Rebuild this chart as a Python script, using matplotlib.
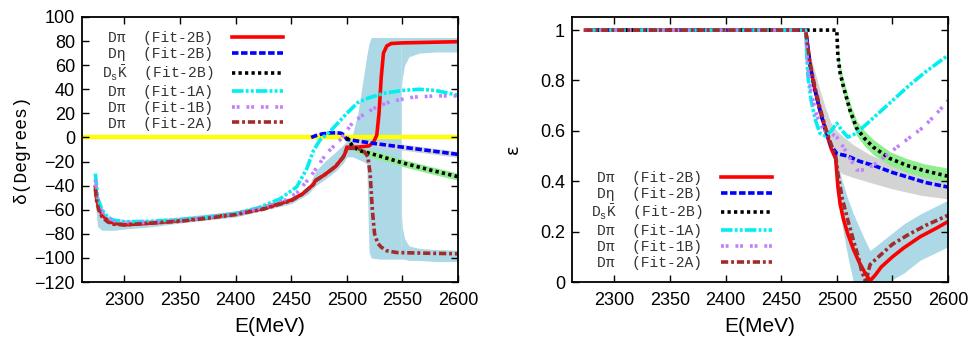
import matplotlib
matplotlib.use("Agg")
import matplotlib.pyplot as plt

plt.rcParams['mathtext.fontset'] = 'custom'
plt.rcParams['mathtext.rm'] = 'Liberation Mono'
plt.rcParams['mathtext.it'] = 'Liberation Mono'

# ---------------- Left panel: phase shifts (degrees) ----------------
red_E = [2274, 2275, 2277, 2280, 2285, 2290, 2300, 2325, 2350, 2375, 2400, 2425, 2450, 2460,
         2470, 2472, 2480, 2490, 2497, 2499, 2500, 2510, 2520, 2524, 2527, 2529, 2531, 2533,
         2536, 2540, 2550, 2575, 2600]
red_d = [-41, -50, -58, -64, -69, -71, -72.5, -71, -69, -66.5, -63.5, -59, -52, -47,
         -39, -35.5, -31, -24, -16, -12, -8, -8, -7, -4, 2, 20, 50, 70,
         76, 78, 78.5, 79, 79.5]

blue_E = [2468, 2472, 2478, 2485, 2490, 2495, 2498, 2500, 2510, 2525, 2550, 2575, 2600]
blue_d = [0, 1.5, 3, 3.8, 4, 3.5, 1.5, -1.5, -3, -5, -8, -11, -14]

black_E = [2500, 2502, 2506, 2512, 2520, 2530, 2550, 2575, 2600]
black_d = [0, -3, -8, -11, -13, -15.5, -21, -27, -32.5]

cyan_E = [2274, 2276, 2280, 2285, 2290, 2300, 2325, 2350, 2375, 2400, 2420, 2440, 2455,
          2464, 2470, 2476, 2485, 2500, 2510, 2520, 2535, 2550, 2565, 2580, 2600]
cyan_d = [-30, -50, -60, -66, -68.5, -70, -69.5, -68, -66, -63, -58.5, -51, -41,
          -26, -11, -2, 5, 20, 29, 33, 37, 39, 40, 39, 35]

purple_E = [2274, 2276, 2280, 2285, 2290, 2300, 2325, 2350, 2375, 2400, 2425, 2445, 2455,
            2467, 2482, 2494, 2505, 2515, 2527, 2540, 2560, 2580, 2600]
purple_d = [-35, -52, -62, -67, -69.5, -71, -70.5, -69, -66.5, -63.5, -58, -52, -46,
            -33, -13, -2, 12, 19, 25.5, 30, 33.5, 34.5, 34.5]

brown_E = [2274, 2275, 2277, 2280, 2285, 2290, 2300, 2325, 2350, 2375, 2400, 2425, 2450,
           2460, 2470, 2472, 2480, 2490, 2497, 2500, 2510, 2516, 2519, 2521, 2523, 2525,
           2528, 2531, 2536, 2545, 2570, 2600]
brown_d = [-43, -52, -60, -66, -70, -72, -72.5, -71, -69.5, -67, -64, -59.5, -52.5,
           -47, -39, -36, -31, -24, -16, -9, -9, -12, -16, -30, -60, -80,
           -88, -91, -94, -95.5, -96, -96.5]

# error bands (left)
band_E = [2274, 2276, 2280, 2290, 2300, 2325, 2350, 2400, 2450, 2465, 2472, 2480, 2490,
          2497, 2500, 2505, 2510, 2515, 2518, 2520, 2522, 2530, 2549]
band_lo = [-55, -74, -77, -77, -76, -74, -71, -66, -55, -47, -40, -35, -28,
           -21, -16, -16, -18, -20, -22, -95, -100, -101, -101]
band_hi = [-38, -55, -63, -67, -68, -68, -66, -61, -50, -42, -28, -20, -12,
           -6, -3, 2, 20, 50, 68, 78, 83, 83, 83]
bandU_E = [2549, 2550, 2552, 2556, 2565, 2580, 2600]
bandU_lo = [40, 50, 60, 67, 70, 71, 71]
bandU_hi = [83, 83, 83, 83, 83, 83, 83]
bandL_E = [2549, 2550, 2552, 2556, 2565, 2580, 2600]
bandL_lo = [-101, -101, -101, -102, -102, -103, -103]
bandL_hi = [-62, -75, -84, -90, -92, -93, -93.5]

grey_E = [2472, 2480, 2490, 2497, 2500, 2510, 2525, 2550, 2575, 2600]
grey_lo = [-1, 0.5, 1.5, 0, -4, -5.5, -7.5, -10.5, -13.5, -16.5]
grey_hi = [2.5, 5, 6, 4.5, 1, -0.5, -2.5, -5.5, -8.5, -11.5]

green_E = [2500, 2502, 2506, 2512, 2520, 2530, 2550, 2575, 2600]
green_lo = [-1, -5.5, -10.5, -13.5, -16, -18.5, -24, -30, -35.5]
green_hi = [1, -0.5, -5.5, -8.5, -10, -12.5, -18, -24, -29.5]

# ---------------- Right panel: inelasticity ----------------
r_red_E = [2274, 2472, 2476, 2480, 2485, 2490, 2495, 2499, 2501, 2503, 2506, 2510, 2515,
           2520, 2525, 2530, 2535, 2540, 2550, 2560, 2575, 2590, 2600]
r_red_e = [1, 1, 0.86, 0.77, 0.68, 0.6, 0.53, 0.49, 0.38, 0.31, 0.25, 0.19, 0.13,
           0.08, 0.04, 0.005, 0.03, 0.06, 0.1, 0.135, 0.18, 0.215, 0.24]

r_blue_E = [2274, 2472, 2476, 2480, 2485, 2490, 2495, 2500, 2510, 2520, 2535, 2550, 2565,
            2580, 2600]
r_blue_e = [1, 1, 0.86, 0.77, 0.68, 0.6, 0.54, 0.51, 0.5, 0.48, 0.46, 0.435, 0.415,
            0.395, 0.377]

r_black_E = [2274, 2500, 2501, 2503, 2506, 2512, 2518, 2525, 2533, 2548, 2563, 2578, 2600]
r_black_e = [1, 1, 0.9, 0.83, 0.775, 0.68, 0.61, 0.57, 0.535, 0.49, 0.463, 0.443, 0.42]

r_cyan_E = [2274, 2472, 2474, 2477, 2481, 2485, 2490, 2495, 2500, 2505, 2510, 2515, 2520,
            2535, 2550, 2565, 2580, 2600]
r_cyan_e = [1, 1, 0.82, 0.72, 0.64, 0.59, 0.58, 0.6, 0.63, 0.6, 0.575, 0.585, 0.6,
            0.66, 0.72, 0.78, 0.835, 0.9]

r_purple_E = [2274, 2472, 2474, 2477, 2482, 2488, 2495, 2500, 2506, 2512, 2518, 2525,
              2535, 2548, 2563, 2578, 2590, 2600]
r_purple_e = [1, 1, 0.85, 0.75, 0.66, 0.605, 0.59, 0.575, 0.535, 0.49, 0.445, 0.445,
              0.47, 0.515, 0.565, 0.615, 0.67, 0.72]

r_brown_E = [2274, 2472, 2476, 2480, 2485, 2490, 2495, 2499, 2501, 2505, 2510, 2515,
             2520, 2522, 2526, 2530, 2540, 2550, 2565, 2580, 2600]
r_brown_e = [1, 1, 0.87, 0.78, 0.69, 0.61, 0.545, 0.5, 0.43, 0.33, 0.245, 0.165,
             0.09, 0.05, 0.0, 0.07, 0.11, 0.15, 0.19, 0.225, 0.265]

r_band_E = [2499, 2501, 2505, 2510, 2515, 2520, 2525, 2530, 2540, 2550, 2560, 2575, 2600]
r_band_hi = [0.5, 0.47, 0.4, 0.33, 0.27, 0.22, 0.17, 0.125, 0.16, 0.195, 0.23, 0.27, 0.325]
r_band_lo = [0.49, 0.35, 0.22, 0.1, 0.0, -0.05, -0.05, -0.05, -0.02, 0.01, 0.035, 0.087, 0.14]

r_grey_E = [2472, 2476, 2480, 2485, 2490, 2495, 2500, 2505, 2515, 2530, 2550, 2575, 2600]
r_grey_lo = [1, 0.85, 0.76, 0.67, 0.59, 0.52, 0.45, 0.43, 0.415, 0.395, 0.37, 0.345, 0.33]
r_grey_hi = [1, 0.9, 0.84, 0.76, 0.69, 0.63, 0.6, 0.58, 0.545, 0.505, 0.47, 0.44, 0.42]

r_green_E = [2500, 2501, 2503, 2506, 2512, 2518, 2525, 2533, 2548, 2563, 2578, 2600]
r_green_lo = [1, 0.87, 0.80, 0.745, 0.65, 0.58, 0.54, 0.505, 0.463, 0.436, 0.416, 0.395]
r_green_hi = [1, 0.93, 0.86, 0.805, 0.71, 0.64, 0.60, 0.565, 0.517, 0.49, 0.47, 0.452]

labels = ['D\u03c0  (Fit-2B)', 'D\u03b7  (Fit-2B)', r'D$_\mathrm{s}\bar{\mathrm{K}}$  (Fit-2B)',
          'D\u03c0  (Fit-1A)', 'D\u03c0  (Fit-1B)', 'D\u03c0  (Fit-2A)']

xticks = [2300, 2350, 2400, 2450, 2500, 2550, 2600]
left_yticks = [-120, -100, -80, -60, -40, -20, 0, 20, 40, 60, 80, 100]
right_yticks = [0, 0.2, 0.4, 0.6, 0.8, 1]
right_yticklabels = ['0', '0.2', '0.4', '0.6', '0.8', '1']

colors = ['#ff0000', '#0000ff', '#000000', '#00f0f0', '#c080ff', '#a52a2a']
styles = [dict(linestyle='-'),
          dict(dashes=(1.8, 0.7)),
          dict(dashes=(0.9, 0.9)),
          dict(dashes=(3.2, 0.6, 0.8, 0.6, 0.8, 0.6)),
          dict(dashes=(0.8, 0.5, 0.8, 1.9)),
          dict(dashes=(2.0, 0.8, 0.8, 0.8))]
LW = 2.6

fig = plt.figure(figsize=(9.73, 3.44), dpi=100)
axL = fig.add_axes([0.0843, 0.180, 0.3864, 0.7706])
axR = fig.add_axes([0.5879, 0.180, 0.3864, 0.7706])

tickfont = dict(family='Liberation Sans', size=13)
legprop = dict(family='Liberation Mono', size=10.5)

# left panel
axL.fill_between(band_E, band_lo, band_hi, color='#add8e6', lw=0, zorder=1)
axL.fill_between(bandU_E, bandU_lo, bandU_hi, color='#add8e6', lw=0, zorder=1)
axL.fill_between(bandL_E, bandL_lo, bandL_hi, color='#add8e6', lw=0, zorder=1)
axL.fill_between(grey_E, grey_lo, grey_hi, color='#d3d3d3', lw=0, zorder=1.1)
axL.fill_between(green_E, green_lo, green_hi, color='#90ee90', lw=0, zorder=1.1)
axL.axhline(0, color='#ffff00', lw=3.2, zorder=1.5)

left_series = [(red_E, red_d), (blue_E, blue_d), (black_E, black_d),
               (cyan_E, cyan_d), (purple_E, purple_d), (brown_E, brown_d)]
handles = []
for i, (E, v) in enumerate(left_series):
    h, = axL.plot(E, v, color=colors[i], lw=LW, label=labels[i], zorder=2 + i * 0.1,
                  **styles[i])
    handles.append(h)

axL.set_xlim(2262, 2600)
axL.set_ylim(-120, 100)
axL.set_xticks(xticks)
axL.set_yticks(left_yticks)
axL.set_xticklabels([str(t) for t in xticks], **tickfont)
axL.set_yticklabels(['\u2212' + str(-t) if t < 0 else str(t) for t in left_yticks], **tickfont)
axL.set_xlabel('E(MeV)', family='Liberation Sans', size=15, labelpad=6)
axL.set_ylabel('\u03b4(Degrees)', family='Liberation Mono', size=13, labelpad=3)

legL = axL.legend(handles=handles, loc='upper right', bbox_to_anchor=(0.535, 0.946),
                  frameon=False, markerfirst=False, prop=legprop,
                  handlelength=3.5, handletextpad=1.3, labelspacing=0.13, borderpad=0,
                  borderaxespad=0)
for t in legL.get_texts():
    t.set_color('#333333')

# right panel
axR.fill_between(r_grey_E, r_grey_lo, r_grey_hi, color='#d3d3d3', lw=0, zorder=1)
axR.fill_between(r_band_E, r_band_lo, r_band_hi, color='#add8e6', lw=0, zorder=1.05)
axR.fill_between(r_green_E, r_green_lo, r_green_hi, color='#90ee90', lw=0, zorder=1.1)

right_series = [(r_red_E, r_red_e), (r_blue_E, r_blue_e), (r_black_E, r_black_e),
                (r_cyan_E, r_cyan_e), (r_purple_E, r_purple_e), (r_brown_E, r_brown_e)]
handlesR = []
for i, (E, v) in enumerate(right_series):
    h, = axR.plot(E, v, color=colors[i], lw=LW, label=labels[i], zorder=2 + i * 0.1,
                  **styles[i])
    handlesR.append(h)

axR.set_xlim(2262, 2600)
axR.set_ylim(0, 1.052)
axR.set_xticks(xticks)
axR.set_yticks(right_yticks)
axR.set_xticklabels([str(t) for t in xticks], **tickfont)
axR.set_yticklabels(right_yticklabels, **tickfont)
axR.set_xlabel('E(MeV)', family='Liberation Sans', size=15, labelpad=6)
axR.set_ylabel('\u03b5', family='DejaVu Sans', size=13, labelpad=13)

legR = axR.legend(handles=handlesR, loc='upper right', bbox_to_anchor=(0.533, 0.42),
                  frameon=False, markerfirst=False, prop=legprop,
                  handlelength=3.5, handletextpad=1.3, labelspacing=0.13, borderpad=0,
                  borderaxespad=0)
for t in legR.get_texts():
    t.set_color('#333333')

for ax in (axL, axR):
    for s in ax.spines.values():
        s.set_linewidth(1.3)
    ax.tick_params(direction='in', length=5, width=1, top=True, right=True, pad=7)
    ax.tick_params(axis='y', pad=5)

fig.savefig('out.png', dpi=100)
